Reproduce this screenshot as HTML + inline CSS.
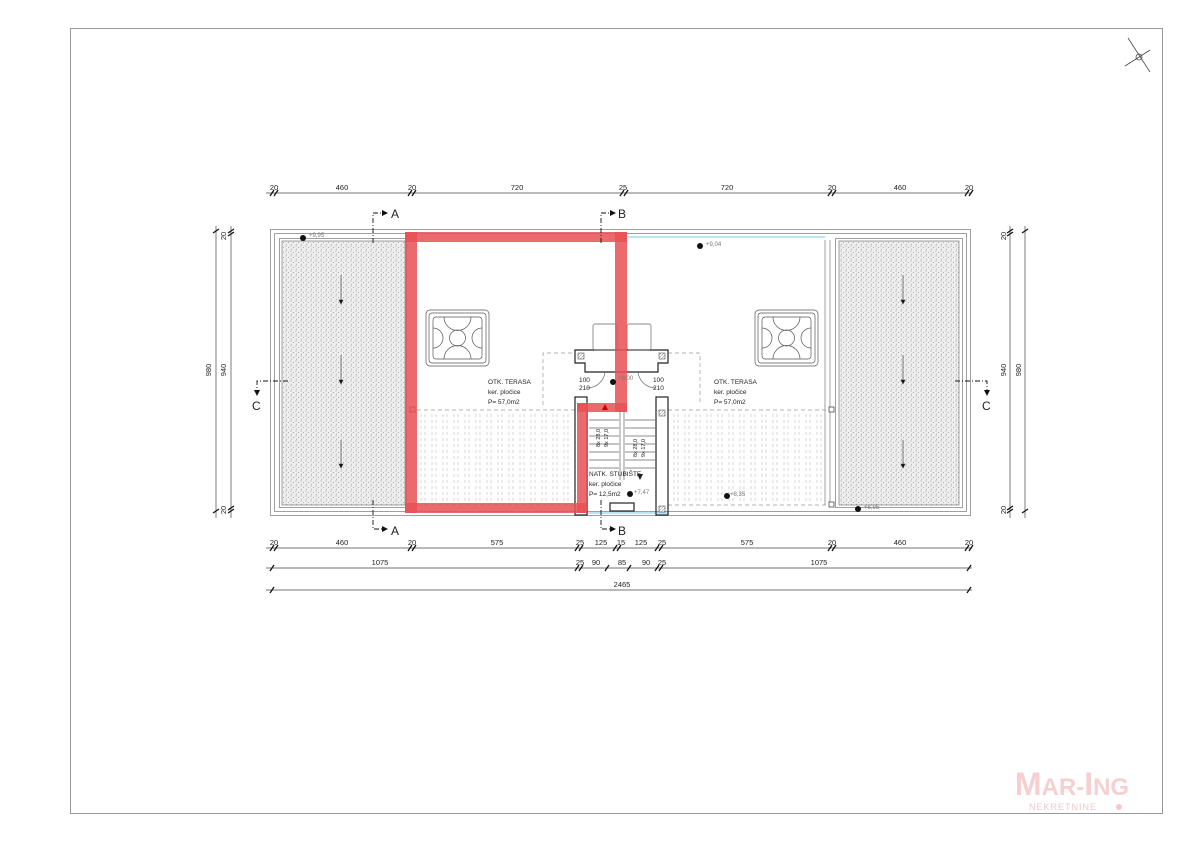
<!DOCTYPE html>
<html><head><meta charset="utf-8"><style>
html,body{margin:0;padding:0;background:#fff}
svg{display:block}
text{font-family:"Liberation Sans",sans-serif;fill:#222}
</style></head><body>
<svg width="1191" height="842" viewBox="0 0 1191 842" xmlns="http://www.w3.org/2000/svg">
<defs>
<pattern id="g" width="5" height="5" patternUnits="userSpaceOnUse">
<rect width="5" height="5" fill="#eeeeee"/>
<circle cx="1" cy="1" r="0.5" fill="#888"/><circle cx="3.5" cy="2.5" r="0.5" fill="#999"/><circle cx="1.5" cy="4.2" r="0.4" fill="#777"/>
</pattern>
<pattern id="v" width="11" height="6" patternUnits="userSpaceOnUse">
<line x1="3" y1="0" x2="3" y2="3" stroke="#bbb" stroke-width="0.6"/><line x1="7" y1="0" x2="7" y2="3" stroke="#bbb" stroke-width="0.6"/>
</pattern>
<pattern id="x" width="3" height="3" patternUnits="userSpaceOnUse"><rect width="3" height="3" fill="#fff"/><path d="M0 3L3 0" stroke="#666" stroke-width="0.5"/></pattern>
</defs>
<rect x="70.5" y="28.5" width="1092" height="785" fill="none" stroke="#999"/>
<g stroke="#444" stroke-width="0.8" fill="none"><line x1="1128" y1="38" x2="1150" y2="72"/><line x1="1125" y1="66" x2="1150" y2="50"/><circle cx="1139" cy="57" r="3"/></g>

<g fill="none" stroke="#888" stroke-width="0.8">
<rect x="270.5" y="229.5" width="700" height="286"/>
<rect x="274.5" y="233.5" width="692" height="278"/>
<rect x="279.5" y="238.5" width="127" height="269"/>
<rect x="835.5" y="238.5" width="127" height="269"/>
<line x1="825" y1="240" x2="825" y2="505"/><line x1="830" y1="240" x2="830" y2="505"/>
</g>
<rect x="282" y="241" width="123" height="264" fill="url(#g)" stroke="#666" stroke-width="0.6"/>
<rect x="839" y="241" width="120" height="264" fill="url(#g)" stroke="#666" stroke-width="0.6"/>
<line x1="627" y1="237" x2="825" y2="237" stroke="#4ab6e0" stroke-width="0.8"/>
<line x1="587" y1="513" x2="668" y2="513" stroke="#4ab6e0" stroke-width="0.8"/>

<rect x="418" y="413" width="158" height="90" fill="url(#v)"/>
<rect x="670" y="413" width="154" height="90" fill="url(#v)"/>
<g stroke="#999" stroke-dasharray="4,3" fill="none" stroke-width="0.7">
<line x1="417" y1="410" x2="575" y2="410"/><line x1="668" y1="410" x2="828" y2="410"/>
<path d="M543 405V353H575M668 353H700V405"/>
<line x1="417" y1="505" x2="575" y2="505"/><line x1="668" y1="505" x2="828" y2="505"/>
</g>
<g fill="#fff" stroke="#333" stroke-width="0.7"><rect x="410" y="407" width="5" height="5"/><rect x="829" y="407" width="5" height="5"/><rect x="829" y="502" width="5" height="5"/></g>

<g fill="none" stroke="#555" stroke-width="0.7">
<g transform="translate(426,310)"><rect width="63" height="56" rx="4"/><rect x="3" y="3" width="57" height="50" rx="3"/><rect x="7" y="7" width="49" height="42" rx="3"/><circle cx="31.5" cy="28" r="8"/><path d="M18 7a8 8 0 0 0 27 0M18 49a8 8 0 0 1 27 0M7 18a8 8 0 0 1 0 20M56 18a8 8 0 0 0 0 20"/></g>
<g transform="translate(755,310)"><rect width="63" height="56" rx="4"/><rect x="3" y="3" width="57" height="50" rx="3"/><rect x="7" y="7" width="49" height="42" rx="3"/><circle cx="31.5" cy="28" r="8"/><path d="M18 7a8 8 0 0 0 27 0M18 49a8 8 0 0 1 27 0M7 18a8 8 0 0 1 0 20M56 18a8 8 0 0 0 0 20"/></g>
</g>

<g fill="none" stroke="#222" stroke-width="1.2">
<path d="M575 350H668V363H658V372H585V363H575Z"/>
<rect x="575" y="397" width="12" height="118"/>
<rect x="656" y="397" width="12" height="118"/>
<rect x="610" y="503" width="24" height="8"/>
</g>
<g fill="none" stroke="#666" stroke-width="0.7">
<rect x="593" y="324" width="24" height="26" rx="2"/><rect x="627" y="324" width="24" height="26" rx="2"/>
<path d="M587 388A18 18 0 0 0 605 372M656 388A18 18 0 0 1 638 372"/>
<line x1="620" y1="412" x2="620" y2="480"/><line x1="624" y1="412" x2="624" y2="480"/>
<path d="M589 420H619M589 428H619M589 436H619M589 444H619M589 452H619M589 460H619M589 468H619M625 420H655M625 428H655M625 436H655M625 444H655M625 452H655M625 460H655M625 468H655"/>
</g>
<g fill="url(#x)" stroke="#333" stroke-width="0.5"><rect x="578" y="353" width="6" height="6"/><rect x="659" y="353" width="6" height="6"/><rect x="659" y="410" width="6" height="6"/><rect x="578" y="506" width="6" height="6"/><rect x="659" y="506" width="6" height="6"/></g>

<g fill="#e85055" fill-opacity="0.85">
<rect x="405" y="232" width="12" height="281"/>
<rect x="405" y="232" width="222" height="10"/>
<rect x="615" y="232" width="12" height="180"/>
<rect x="577" y="403" width="50" height="9"/>
<rect x="577" y="403" width="10" height="110"/>
<rect x="405" y="503" width="182" height="10"/>
</g>
<polygon points="602,410 605,404 608,410" fill="#c00"/>
<polygon points="637,474 643,474 640,480" fill="#222"/>

<g font-size="6.5">
<text x="488" y="384">OTK. TERASA</text><text x="488" y="394">ker. pločice</text><text x="488" y="404">P= 57,0m2</text>
<text x="714" y="384">OTK. TERASA</text><text x="714" y="394">ker. pločice</text><text x="714" y="404">P= 57,0m2</text>
<text x="589" y="476">NATK. STUBIŠTE</text><text x="589" y="486">ker. pločice</text><text x="589" y="496">P= 12,5m2</text>
<text x="579" y="382">100</text><text x="579" y="390">210</text><text x="653" y="382">100</text><text x="653" y="390">210</text>
<text font-size="5.5" transform="translate(600,447) rotate(-90)">8x 28,0</text><text font-size="5.5" transform="translate(608,447) rotate(-90)">9x 17,0</text>
<text font-size="5.5" transform="translate(637,457) rotate(-90)">8x 28,0</text><text font-size="5.5" transform="translate(645,457) rotate(-90)">9x 17,0</text>
</g>
<g font-size="6">
<text x="309" y="237" style="fill:#777">+9,95</text><text x="706" y="246" style="fill:#777">+9,04</text><text x="618" y="380" style="fill:#777">+9,00</text><text x="634" y="494" style="fill:#777">+7,47</text><text x="730" y="496" style="fill:#777">+8,35</text><text x="864" y="509" style="fill:#777">+8,95</text>
</g>
<g fill="#111"><circle cx="303" cy="238" r="3"/><circle cx="700" cy="246" r="3"/><circle cx="613" cy="382" r="3"/><circle cx="630" cy="494" r="3"/><circle cx="727" cy="496" r="3"/><circle cx="858" cy="509" r="3"/></g>

<g stroke="#333" stroke-width="0.6" fill="#111">
<line x1="341" y1="275" x2="341" y2="302"/><polygon points="339,300 343,300 341,304"/>
<line x1="341" y1="355" x2="341" y2="382"/><polygon points="339,380 343,380 341,384"/>
<line x1="341" y1="440" x2="341" y2="466"/><polygon points="339,464 343,464 341,468"/>
<line x1="903" y1="275" x2="903" y2="302"/><polygon points="901,300 905,300 903,304"/>
<line x1="903" y1="355" x2="903" y2="382"/><polygon points="901,380 905,380 903,384"/>
<line x1="903" y1="440" x2="903" y2="466"/><polygon points="901,464 905,464 903,468"/>
</g>

<g stroke="#111" stroke-width="0.9" fill="none" stroke-dasharray="5,2,1,2">
<path d="M373 243V213H382"/><path d="M373 500V529H382"/>
<path d="M601 243V213H610"/><path d="M601 500V529H610"/>
<path d="M288 381H257V390"/><path d="M955 381H987V390"/>
</g>
<g fill="#111"><polygon points="382,210 388,213 382,216"/><polygon points="382,526 388,529 382,532"/><polygon points="610,210 616,213 610,216"/><polygon points="610,526 616,529 610,532"/><polygon points="254,390 260,390 257,396"/><polygon points="984,390 990,390 987,396"/></g>
<g font-size="12"><text x="391" y="218">A</text><text x="391" y="535">A</text><text x="618" y="218">B</text><text x="618" y="535">B</text><text x="252" y="410">C</text><text x="982" y="410">C</text></g>

<g stroke="#444" stroke-width="0.7">
<line x1="266" y1="193" x2="972" y2="193"/>
<line x1="266" y1="548" x2="972" y2="548"/>
<line x1="266" y1="568" x2="972" y2="568"/>
<line x1="266" y1="590" x2="972" y2="590"/>
<line x1="216" y1="226" x2="216" y2="518"/><line x1="231" y1="226" x2="231" y2="518"/>
<line x1="1010" y1="226" x2="1010" y2="518"/><line x1="1025" y1="226" x2="1025" y2="518"/>
</g>
<g stroke="#111" stroke-width="1.3">
<path d="M270 196l4-6M274 196l4-6M408 196l4-6M412 196l4-6M620 196l4-6M624 196l4-6M828 196l4-6M832 196l4-6M965 196l4-6M969 196l4-6"/>
<path d="M270 551l4-6M274 551l4-6M408 551l4-6M412 551l4-6M575 551l4-6M579 551l4-6M613 551l4-6M617 551l4-6M655 551l4-6M659 551l4-6M828 551l4-6M832 551l4-6M965 551l4-6M969 551l4-6"/>
<path d="M270 571l4-6M575 571l4-6M579 571l4-6M605 571l4-6M627 571l4-6M655 571l4-6M659 571l4-6M967 571l4-6"/>
<path d="M270 593l4-6M967 593l4-6"/>
<path d="M213 233l6-4M228 233l6-4M228 236l6-4M228 510l6-4M228 513l6-4M213 513l6-4"/>
<path d="M1007 233l6-4M1007 236l6-4M1022 233l6-4M1007 510l6-4M1007 513l6-4M1022 513l6-4"/>
</g>
<g font-size="7.5" text-anchor="middle">
<text x="274" y="190">20</text><text x="342" y="190">460</text><text x="412" y="190">20</text><text x="517" y="190">720</text><text x="623" y="190">25</text><text x="727" y="190">720</text><text x="832" y="190">20</text><text x="900" y="190">460</text><text x="969" y="190">20</text>
<text x="274" y="545">20</text><text x="342" y="545">460</text><text x="412" y="545">20</text><text x="497" y="545">575</text><text x="580" y="545">25</text><text x="601" y="545">125</text><text x="621" y="545">15</text><text x="641" y="545">125</text><text x="662" y="545">25</text><text x="747" y="545">575</text><text x="832" y="545">20</text><text x="900" y="545">460</text><text x="969" y="545">20</text>
<text x="380" y="565">1075</text><text x="580" y="565">25</text><text x="596" y="565">90</text><text x="622" y="565">85</text><text x="646" y="565">90</text><text x="662" y="565">25</text><text x="819" y="565">1075</text>
<text x="622" y="587">2465</text>
<text transform="translate(211,370) rotate(-90)">980</text><text transform="translate(226,370) rotate(-90)">940</text>
<text transform="translate(226,236) rotate(-90)">20</text><text transform="translate(226,510) rotate(-90)">20</text>
<text transform="translate(1006,370) rotate(-90)">940</text><text transform="translate(1021,370) rotate(-90)">980</text>
<text transform="translate(1006,236) rotate(-90)">20</text><text transform="translate(1006,510) rotate(-90)">20</text>
</g>

<text x="1072" y="795" text-anchor="middle" font-weight="bold" style="fill:#f6d0d0"><tspan font-size="32">M</tspan><tspan font-size="24">AR-</tspan><tspan font-size="32">I</tspan><tspan font-size="24">NG</tspan></text>
<text x="1063" y="810" text-anchor="middle" font-size="9" style="fill:#f0c8c8;letter-spacing:1px">NEKRETNINE</text>
<circle cx="1119" cy="807" r="3" fill="#f6c8c8"/>
</svg>
</body></html>
